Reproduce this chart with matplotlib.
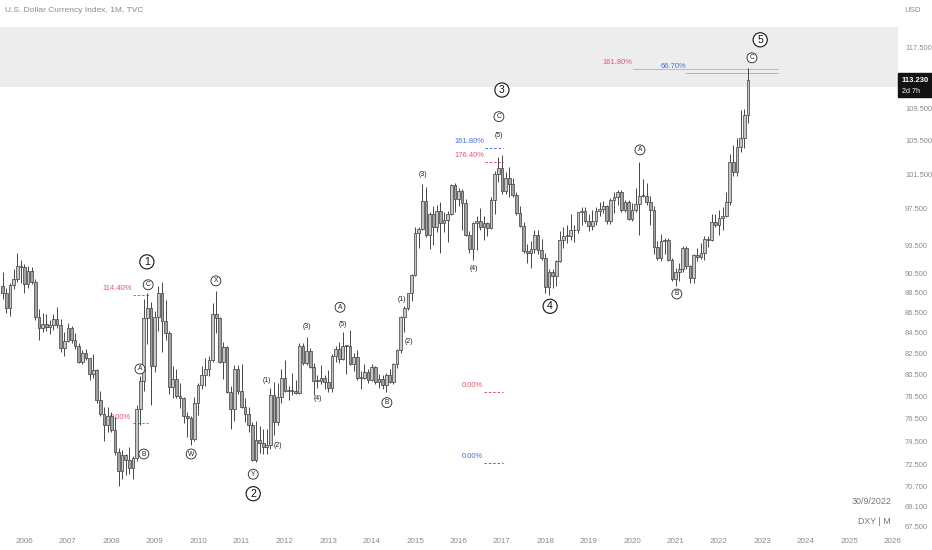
import numpy as np
import matplotlib.pyplot as plt
from matplotlib.patches import Rectangle

plt.rcParams["font.family"] = ["Liberation Sans", "DejaVu Sans"]

# monthly DXY candles, Jul 2005 .. Sep 2022
start_year = 2005.5
first_open = 89.2

closes = [
    88.4, 86.9, 89.3, 89.9, 91.3, 91.2,
    89.4, 90.7, 89.6, 86.0, 84.9, 85.3, 85.0, 85.2, 85.8, 85.2, 83.0, 83.7,
    84.9, 83.8, 83.2, 81.7, 82.5, 82.0, 80.5, 80.9, 78.1, 76.9, 75.9, 76.7,
    75.5, 73.6, 72.0, 73.3, 72.9, 72.2, 73.1, 77.3, 79.9, 85.9, 86.9, 81.3,
    86.0, 88.5, 85.6, 84.4, 79.3, 80.1, 78.5, 78.3, 76.7, 76.5, 74.7, 77.9,
    79.5, 80.4, 81.0, 81.8, 86.3, 85.9, 81.7, 83.1, 78.9, 77.3, 81.0, 79.0,
    77.5, 76.9, 75.9, 72.9, 74.6, 74.3, 74.0, 74.2, 78.6, 76.2, 78.4, 80.2,
    79.0, 79.0, 79.0, 78.8, 83.2, 81.6, 82.7, 81.2, 79.9, 79.9, 80.2, 79.8,
    79.2, 82.2, 82.9, 81.9, 83.2, 83.2, 81.5, 82.1, 80.2, 80.2, 80.7, 80.0,
    81.2, 79.8, 80.1, 79.5, 80.4, 79.8, 81.5, 82.8, 86.0, 86.9, 88.4, 90.3,
    94.8, 95.3, 98.4, 94.6, 96.9, 95.5, 97.3, 95.9, 96.3, 96.9, 100.2, 98.6,
    99.6, 98.2, 94.6, 93.1, 95.9, 96.1, 95.5, 95.9, 95.4, 98.5, 101.5, 102.2,
    99.5, 101.1, 100.4, 99.1, 97.0, 95.6, 92.9, 92.7, 93.1, 94.6, 93.0, 92.1,
    89.1, 90.6, 90.2, 91.8, 94.0, 94.5, 94.5, 95.1, 95.1, 97.1, 97.3, 96.2,
    95.6, 96.2, 97.3, 97.5, 97.8, 96.1, 98.5, 98.9, 99.4, 97.4, 98.3, 96.4,
    97.4, 98.1, 99.0, 99.0, 98.3, 97.4, 93.3, 92.1, 93.9, 94.0, 91.9, 89.9,
    90.6, 90.9, 93.2, 91.3, 90.0, 92.4, 92.2, 92.6, 94.2, 94.1, 96.0, 95.7,
    96.5, 96.7, 98.3, 103.0, 101.8, 104.7, 105.9, 108.7, 113.23,
]

highs = [
    90.6, 89.0, 89.5, 90.9, 92.6, 91.9,
    91.5, 91.3, 91.2, 89.9, 86.8, 86.4, 86.3, 85.7, 86.3, 87.0, 85.8, 84.5,
    85.4, 85.1, 84.4, 83.5, 82.8, 82.9, 82.0, 82.4, 81.0, 79.0, 77.5, 77.5,
    77.1, 76.6, 73.9, 73.7, 73.4, 74.0, 73.2, 77.7, 80.3, 87.8, 88.5, 87.5,
    86.6, 89.2, 89.6, 87.7, 84.6, 81.3, 81.0, 79.7, 78.4, 77.1, 76.7, 78.4,
    79.7, 81.3, 82.0, 82.2, 87.4, 88.7, 86.0, 83.6, 83.2, 79.4, 81.4, 81.4,
    81.5, 78.3, 77.5, 76.2, 76.3, 75.8, 75.6, 75.6, 79.2, 79.8, 79.7, 81.0,
    81.8, 79.4, 80.6, 80.0, 83.5, 83.5, 84.1, 83.0, 81.6, 80.4, 81.4, 80.4,
    80.9, 82.4, 83.2, 83.6, 84.5, 83.3, 84.75, 82.5, 82.8, 80.8, 81.5, 81.0,
    81.5, 81.3, 80.5, 80.4, 80.6, 81.0, 81.6, 82.9, 86.1, 87.1, 88.5, 90.4,
    95.5, 95.5, 100.4, 100.0, 97.2, 97.8, 98.0, 98.3, 97.1, 97.3, 100.4, 100.5,
    99.9, 99.8, 98.6, 95.0, 96.0, 96.7, 97.6, 96.7, 96.0, 98.9, 101.9, 103.6,
    103.8, 101.8, 102.3, 101.0, 99.4, 97.8, 96.0, 93.6, 93.9, 95.1, 95.2, 94.2,
    92.6, 90.9, 90.9, 91.9, 95.0, 95.5, 95.7, 96.9, 95.7, 97.2, 97.7, 97.7,
    96.9, 97.4, 97.7, 98.3, 98.4, 98.0, 98.7, 99.4, 99.7, 99.7, 98.5, 98.5,
    98.2, 99.9, 103.0, 100.9, 100.5, 99.0, 97.8, 93.9, 94.7, 94.3, 94.3, 92.1,
    91.0, 91.6, 93.4, 93.4, 91.4, 92.5, 93.2, 93.7, 94.5, 94.5, 96.9, 96.9,
    97.4, 97.7, 99.4, 103.9, 105.0, 105.8, 109.3, 109.5, 114.78,
]

lows = [
    87.8, 86.4, 86.1, 88.9, 89.6, 89.5,
    88.5, 89.0, 89.4, 85.7, 83.8, 84.5, 84.6, 84.3, 84.7, 84.9, 82.6, 82.2,
    83.6, 83.5, 82.9, 81.6, 81.5, 81.8, 80.0, 80.2, 77.9, 76.7, 74.5, 75.3,
    75.3, 73.3, 70.7, 71.3, 71.6, 71.7, 71.3, 72.8, 75.9, 79.0, 83.4, 77.7,
    80.7, 84.6, 82.6, 83.8, 78.7, 78.3, 78.3, 77.4, 76.1, 74.9, 74.2, 74.5,
    76.8, 79.1, 79.4, 80.3, 81.7, 84.4, 81.6, 80.1, 78.8, 75.6, 76.3, 78.7,
    77.4, 76.2, 75.3, 72.8, 72.7, 73.5, 73.4, 73.4, 73.8, 75.0, 75.9, 77.9,
    78.9, 78.1, 78.6, 78.7, 78.7, 81.4, 81.4, 81.1, 78.6, 79.2, 79.6, 79.1,
    78.9, 78.9, 81.7, 81.6, 81.8, 80.5, 81.4, 80.8, 80.0, 79.1, 80.1, 79.7,
    79.9, 79.6, 79.2, 79.1, 78.9, 79.7, 79.6, 81.1, 82.5, 84.5, 86.7, 87.6,
    90.2, 93.2, 95.1, 94.4, 93.1, 93.5, 94.9, 92.6, 94.9, 93.8, 96.8, 97.2,
    97.8, 95.2, 94.5, 92.6, 91.9, 93.0, 95.1, 94.1, 94.5, 95.3, 96.9, 100.6,
    99.2, 99.2, 98.9, 98.8, 96.8, 95.5, 92.7, 91.6, 91.0, 92.7, 92.5, 91.9,
    88.4, 88.25, 89.0, 89.2, 91.7, 93.2, 93.7, 94.1, 93.8, 94.8, 95.7, 95.9,
    95.0, 95.2, 95.7, 96.7, 97.0, 95.8, 95.8, 97.0, 97.9, 97.1, 97.1, 96.3,
    96.2, 97.2, 94.6, 98.8, 97.9, 95.7, 92.5, 91.9, 91.8, 92.5, 91.8, 89.7,
    89.2, 89.7, 90.6, 90.9, 89.5, 89.5, 91.8, 92.0, 91.9, 93.3, 93.9, 95.5,
    94.6, 95.1, 96.6, 98.0, 101.3, 101.3, 104.1, 104.6, 107.7,
]

# Elliott wave labels: (text, year, price, big circle?)
wave_labels = [
    ("1", 2008.82, 91.7, True), ("C", 2008.85, 89.3, False),
    ("A", 2008.66, 81.0, False), ("B", 2008.75, 73.4, False),
    ("X", 2010.41, 89.7, False), ("W", 2009.84, 73.4, False),
    ("Y", 2011.27, 71.7, False), ("2", 2011.27, 70.1, True),
    ("A", 2013.27, 87.0, False), ("B", 2014.35, 77.9, False),
    ("3", 2017.00, 111.9, True), ("C", 2016.93, 108.5, False),
    ("4", 2018.11, 87.1, True), ("A", 2020.18, 104.4, False),
    ("B", 2021.03, 88.35, False), ("5", 2022.95, 118.6, True),
    ("C", 2022.76, 116.15, False),
]

sub_labels = [
    ("(1)", 2011.59, 79.9), ("(2)", 2011.84, 74.1), ("(3)", 2012.51, 85.1),
    ("(4)", 2012.76, 78.3), ("(5)", 2013.34, 85.3), ("(1)", 2014.70, 87.8),
    ("(2)", 2014.86, 83.6), ("(3)", 2015.18, 101.5), ("(4)", 2016.36, 91.0),
    ("(5)", 2016.93, 106.1),
]

# fib levels: (label, text year, text price, line price, x0, x1, colour, dashed)
red = "#f0506a"
blue = "#3d6bf0"
fib_levels = [
    ("114.40%", 2008.13, 88.9, 88.25, 2008.50, 2008.89, red, True),
    ("0.00%", 2008.20, 76.6, 76.07, 2008.50, 2008.85, red, True),
    ("161.80%", 2016.24, 105.4, 104.64, 2016.61, 2017.02, blue, True),
    ("176.40%", 2016.24, 103.7, 102.96, 2016.61, 2017.02, red, True),
    ("0.00%", 2016.31, 79.5, 78.9, 2016.59, 2017.03, red, True),
    ("0.00%", 2016.31, 73.2, 72.65, 2016.59, 2017.03, blue, True),
    ("161.80%", 2019.67, 115.5, 114.67, 2020.02, 2023.36, red, False),
    ("66.70%", 2020.94, 114.95, 114.14, 2021.24, 2023.36, blue, False),
]

price_ticks = [67.5, 69.1, 70.7, 72.5, 74.5, 76.5, 78.5, 80.5, 82.5, 84.5,
               86.5, 88.5, 90.5, 93.5, 97.5, 101.5, 105.5, 109.5, 117.5]
years = list(range(2006, 2027))

closes = np.array(closes)
highs = np.array(highs)
lows = np.array(lows)
opens = np.concatenate([[first_open], closes[:-1]])
x = start_year + np.arange(len(closes)) / 12.0

fig = plt.figure(figsize=(9.32, 5.5), dpi=100)
ax = fig.add_axes([0, 22 / 550, 898 / 932, 528 / 550])
ax.set_yscale("log")
ax.set_xlim(2005.436, 2026.125)
ax.set_ylim(67.37, 124.2)

# resistance zone
ax.axhspan(112.3, 120.4, color="#ededed", zorder=0, lw=0)

up = closes >= opens
edge = "#3a3a3a"
ax.vlines(x, lows, highs, color=edge, lw=0.65, zorder=2)
body_bottom = np.minimum(opens, closes)
body_h = np.maximum(np.abs(closes - opens), 0.08)
ax.bar(x[up], body_h[up], bottom=body_bottom[up], width=0.062,
       color="#c6c6c6", edgecolor=edge, linewidth=0.5, zorder=3)
ax.bar(x[~up], body_h[~up], bottom=body_bottom[~up], width=0.062,
       color="#a2a2a2", edgecolor=edge, linewidth=0.5, zorder=3)

for txt, xx, yy, big in wave_labels:
    if big:
        ax.text(xx, yy, txt, ha="center", va="center", fontsize=7.5, color="#111",
                bbox=dict(boxstyle="circle,pad=0.2", fc="white", ec="#111", lw=0.8),
                zorder=5)
    else:
        ax.text(xx, yy, txt, ha="center", va="center", fontsize=4.8, color="#222",
                bbox=dict(boxstyle="circle,pad=0.22", fc="white", ec="#222", lw=0.6),
                zorder=5)

for txt, xx, yy in sub_labels:
    ax.text(xx, yy, txt, ha="center", va="center", fontsize=5, color="#222", zorder=5)

for txt, tx, ty, ly, x0, x1, col, dashed in fib_levels:
    ax.text(tx, ty, txt, ha="center", va="center", fontsize=5.4, color=col, zorder=1)
    if dashed:
        ax.plot([x0, x1], [ly, ly], color=col, lw=0.7, ls=(0, (2.5, 2)), zorder=1)
    else:
        ax.plot([x0, x1], [ly, ly], color=col, lw=0.6, alpha=0.55, zorder=1)

for s in ax.spines.values():
    s.set_visible(False)
ax.yaxis.tick_right()
ax.set_yticks(price_ticks)
ax.set_yticklabels(["%.3f" % v for v in price_ticks])
ax.yaxis.set_minor_locator(plt.NullLocator())
ax.set_xticks(years)
ax.set_xticklabels([str(y) for y in years])
ax.tick_params(axis="y", length=0, pad=5, labelsize=5.4, labelcolor="#8a8a8a")
ax.tick_params(axis="x", length=0, pad=7, labelsize=5.8, labelcolor="#8a8a8a")

fig.text(5 / 932, 1 - 11 / 550, "U.S. Dollar Currency Index, 1M, TVC",
         fontsize=6, color="#8a8a8a", va="center", ha="left")
fig.text(904 / 932, 1 - 11 / 550, "USD", fontsize=5.6, color="#8a8a8a",
         va="center", ha="left")
fig.text(891 / 932, 1 - 502 / 550, "30/9/2022", fontsize=6.4, color="#777",
         va="center", ha="right")
fig.text(891 / 932, 1 - 522 / 550, "DXY | M", fontsize=6.4, color="#777",
         va="center", ha="right")

# last price tag
fig.patches.append(Rectangle((898 / 932, 1 - 97 / 550), 34 / 932, 24 / 550,
                             transform=fig.transFigure, color="#131313", zorder=10))
fig.text(915 / 932, 1 - 80 / 550, "%.3f" % closes[-1], fontsize=5.5, color="white",
         weight="bold", ha="center", va="center", zorder=11)
fig.text(902 / 932, 1 - 91 / 550, "2d 7h", fontsize=5.2, color="white",
         ha="left", va="center", zorder=11)

fig.savefig("out.png", dpi=100)
